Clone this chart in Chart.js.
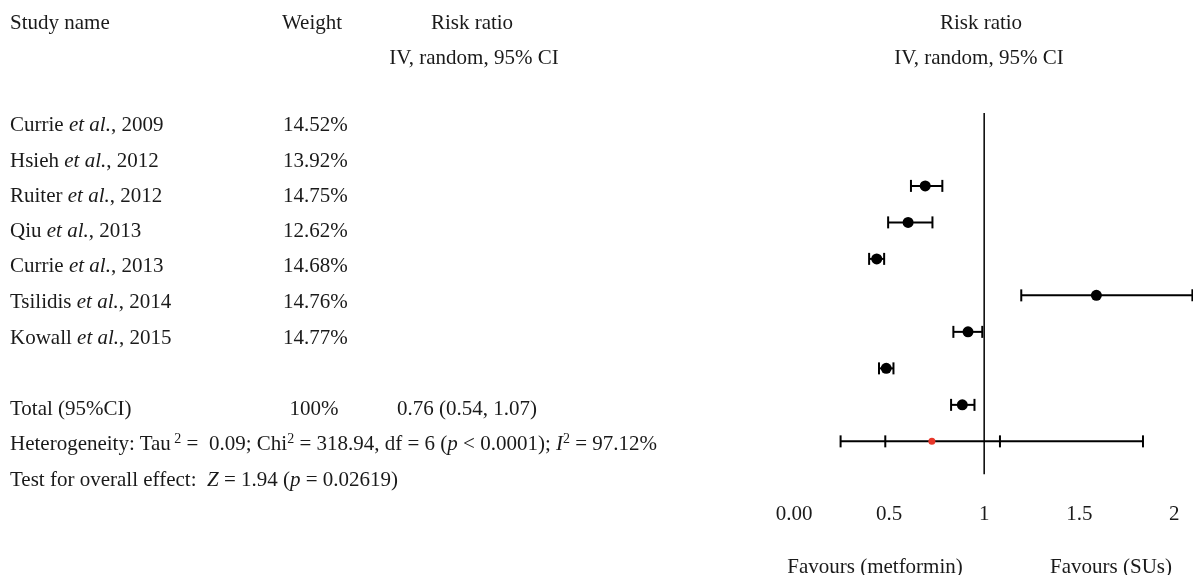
<!DOCTYPE html>
<html>
<head>
<meta charset="utf-8">
<script src="https://cdn.jsdelivr.net/npm/chart.js@4.4.1/dist/chart.umd.min.js"></script>
<style>
  html, body { margin: 0; padding: 0; background: #fff; }
  #wrap { position: relative; width: 1193px; height: 575px; overflow: hidden;
          font-family: 'Liberation Serif', 'Times New Roman', serif; font-size: 21px; color: #1a1a1a; }
  #wrap canvas { position: absolute; left: 0; top: 0; }
  .t { position: absolute; white-space: pre; line-height: 24px; transform: translateY(-50%); }
  .c { transform: translate(-50%, -50%); }
  sup { font-size: 14px; vertical-align: 7px; line-height: 0; }
</style>
</head>
<body>
<div id="wrap"><canvas id="forest" width="1193" height="575"></canvas></div>
<script>
// study table
const authors = ['Currie', 'Hsieh', 'Ruiter', 'Qiu', 'Currie', 'Tsilidis', 'Kowall'];
const years = [2009, 2012, 2012, 2013, 2013, 2014, 2015];
const weights = ['14.52%', '13.92%', '14.75%', '12.62%', '14.68%', '14.76%', '14.77%'];

// markers as drawn in the plot (row index on the y scale)
const markerRows = [3, 4, 5, 6, 7, 8, 9];
const ratios = [0.69, 0.60, 0.435, 1.59, 0.915, 0.485, 0.885];
const lower = [0.615, 0.495, 0.395, 1.195, 0.838, 0.447, 0.826];
const upper = [0.78, 0.728, 0.474, 2.095, 0.99, 0.523, 0.949];

// pooled estimate row
const pooledRow = 10;
const pooledRatio = 0.725;
const pooledOuter = [0.245, 1.835];
const pooledInner = [0.48, 1.083];

// axis
const tickValues = [0, 0.5, 1, 1.5, 2];
const tickLabels = ['0.00', '0.5', '1', '1.5', '2'];
const nullLine = [1, 10.9];

const FONT = "'Liberation Serif', 'Times New Roman', serif";
const wrap = document.getElementById('wrap');

function addText(html, x, y, center) {
    const el = document.createElement('div');
    el.className = center ? 't c' : 't';
    el.style.left = x + 'px';
    el.style.top = y + 'px';
    el.innerHTML = html;
    wrap.appendChild(el);
}

// headers
addText('Study name', 10, 22);
addText('Weight', 312, 22, true);
addText('Risk ratio', 472, 22, true);
addText('IV, random, 95% CI', 474, 57, true);
addText('Risk ratio', 981, 22, true);
addText('IV, random, 95% CI', 979, 57, true);

// study rows
const rowY = [124, 160, 195, 230, 265, 301, 337];
authors.forEach((a, i) => {
    addText(a + ' <i>et al.</i>, ' + years[i], 10, rowY[i]);
    addText(weights[i], 283, rowY[i]);
});

// summary lines
addText('Total (95%CI)', 10, 408);
addText('100%', 314, 408, true);
addText('0.76 (0.54, 1.07)', 397, 408);
addText('Heterogeneity: Tau<sup> 2</sup> =  0.09; Chi<sup>2</sup> = 318.94, df = 6 (<i>p</i> &lt; 0.0001); <i>I</i><sup>2</sup> = 97.12%', 10, 443);
addText('Test for overall effect:  <i>Z</i> = 1.94 (<i>p</i> = 0.02619)', 10, 479);

// favours labels
addText('Favours (metformin)', 875, 566, true);
addText('Favours (SUs)', 1111, 566, true);

const capStyle = {
    type: 'line',
    borderColor: '#000',
    borderWidth: 2,
    pointStyle: 'line',
    pointRotation: 90,
    pointRadius: 6,
    pointBorderWidth: 2,
    pointBorderColor: '#000',
    pointBackgroundColor: '#000',
    clip: false
};

const datasets = [
    {
        type: 'scatter',
        data: [{ x: pooledRatio, y: pooledRow }],
        pointRadius: 3.5,
        pointBackgroundColor: '#e8372a',
        pointBorderWidth: 0,
        clip: false
    },
    {
        type: 'scatter',
        data: ratios.map((r, i) => ({ x: r, y: markerRows[i] })),
        pointRadius: 5.5,
        pointBackgroundColor: '#000',
        pointBorderWidth: 0,
        clip: false
    },
    ...ratios.map((r, i) => Object.assign({}, capStyle, {
        data: [{ x: lower[i], y: markerRows[i] }, { x: upper[i], y: markerRows[i] }]
    })),
    Object.assign({}, capStyle, {
        data: [{ x: pooledOuter[0], y: pooledRow }, { x: pooledOuter[1], y: pooledRow }]
    }),
    Object.assign({}, capStyle, {
        showLine: false,
        data: pooledInner.map(v => ({ x: v, y: pooledRow }))
    }),
    {
        type: 'line',
        data: [{ x: 1, y: nullLine[0] }, { x: 1, y: nullLine[1] }],
        borderColor: '#000',
        borderWidth: 1.5,
        pointRadius: 0,
        clip: false
    }
];

new Chart(document.getElementById('forest'), {
    type: 'scatter',
    data: { datasets },
    options: {
        responsive: false,
        animation: false,
        events: [],
        layout: { padding: { left: 794, right: 0, top: 76.4, bottom: 41.7 } },
        plugins: { legend: { display: false }, tooltip: { enabled: false } },
        scales: {
            x: {
                type: 'linear',
                min: 0,
                max: 2.056,
                grid: { display: false, drawTicks: false },
                border: { display: false },
                afterBuildTicks: scale => { scale.ticks = tickValues.map(v => ({ value: v })); },
                ticks: {
                    padding: 6,
                    color: '#1a1a1a',
                    font: { family: FONT, size: 21 },
                    maxRotation: 0,
                    autoSkip: false,
                    callback: (v) => tickLabels[tickValues.indexOf(v)]
                }
            },
            y: {
                type: 'linear',
                display: false,
                reverse: true,
                min: 0,
                max: 11.5
            }
        }
    }
});
</script>
</body>
</html>
